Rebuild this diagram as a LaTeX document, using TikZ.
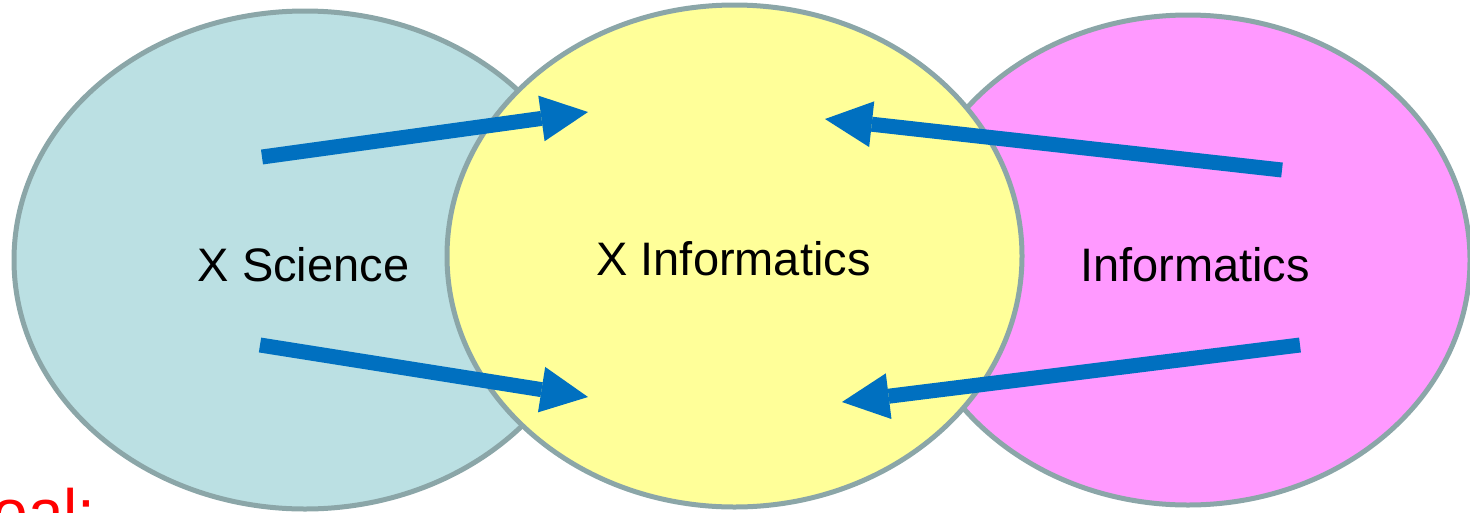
\documentclass[tikz,border=0pt]{standalone}
\usepackage{fontspec}
\setmainfont{Liberation Sans}
\usetikzlibrary{calc}
\definecolor{sciblue}{HTML}{BBE0E3}
\definecolor{infyellow}{HTML}{FFFF99}
\definecolor{infpink}{HTML}{FF99FF}
\definecolor{rimgray}{HTML}{8BA6A8}
\definecolor{arrowblue}{HTML}{0070C0}
\newcommand{\fatarrowdraw}[2]{%
  \path ($(#2)!47pt!(#1)$) coordinate (hb);
  \draw[shaft] (#1) -- (hb);
  \fill[arrowblue] (#2) -- ($(hb)!23pt!90:(#2)$) -- ($(hb)!23pt!-90:(#2)$) -- cycle;
}
\begin{document}
\begin{tikzpicture}[x=1pt,y=-1pt,
  blob/.style={draw=rimgray,line width=5pt},
  shaft/.style={draw=arrowblue,line width=15pt},
  lbl/.style={font=\fontsize{47}{56}\selectfont,anchor=base,inner sep=0pt}]
\useasboundingbox (0,0) rectangle (1470,512);
% ellipses
\draw[blob,fill=sciblue] (305,260) ellipse [x radius=291, y radius=249];
\draw[blob,fill=infpink] (1188,260) ellipse [x radius=282, y radius=245];
\draw[blob,fill=infyellow] (734.5,256) ellipse [x radius=287.5, y radius=251];
% arrow end points
\coordinate (a1s) at (262,157);  \coordinate (a1t) at (588,112);
\coordinate (a2s) at (260,345);  \coordinate (a2t) at (588,397);
\coordinate (a3s) at (1282,170); \coordinate (a3t) at (825,119);
\coordinate (a4s) at (1300,345); \coordinate (a4t) at (842,402);
\fatarrowdraw{a1s}{a1t}
\fatarrowdraw{a2s}{a2t}
\fatarrowdraw{a3s}{a3t}
\fatarrowdraw{a4s}{a4t}
% labels
\node[lbl] (sci) at (303.5,281) {X Science};
\node[lbl] (xinf) at (733.5,275) {X Informatics};
\node[lbl] (inf) at (1195,281) {Informatics};
\node[font=\fontsize{64}{76}\selectfont,text=red,anchor=base east,inner sep=0pt] (goal) at (96,534) {Goal:};
\end{tikzpicture}
\end{document}
